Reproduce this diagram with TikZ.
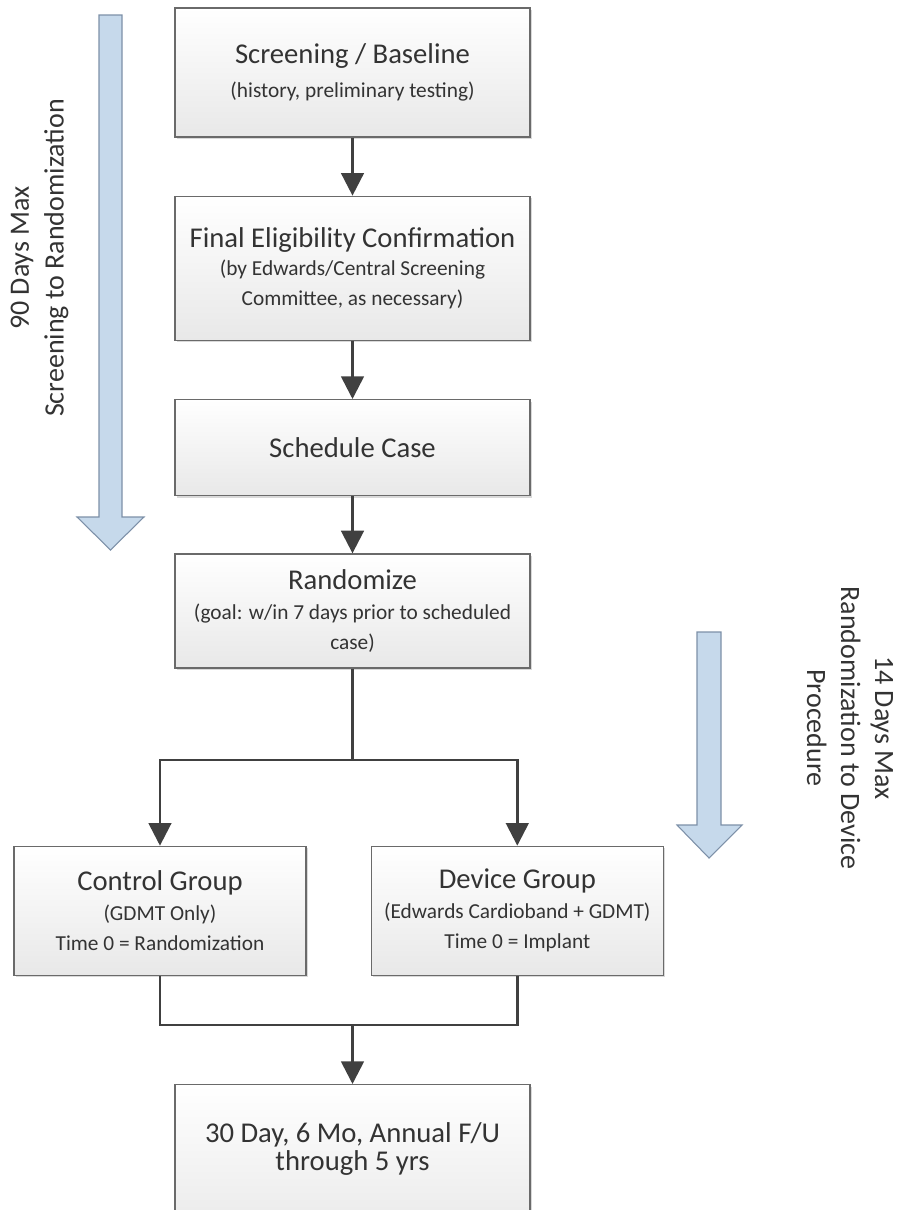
\documentclass[tikz,border=0pt]{standalone}
\usepackage{fontspec}
\setmainfont{Carlito}
\usepackage{tikz}
\usetikzlibrary{positioning, arrows.meta, shadows}
\definecolor{linegray}{HTML}{404040}
\definecolor{boxedge}{HTML}{6A6A6A}
\definecolor{arrowblue}{HTML}{C6D9EB}
\definecolor{arrowedge}{HTML}{7D90A8}
\tikzstyle{stage} = [rectangle, minimum width=266.25pt, text centered, align=center, draw=boxedge, line width=1pt, top color=white, bottom color=black!9, text=black!80, font=\fontsize{16}{22.5}\selectfont, drop shadow={shadow xshift=1.5pt, shadow yshift=-1.5pt, fill=black!25, opacity=0.6}]
\tikzstyle{groupbox} = [stage, minimum width=219pt, minimum height=96.75pt]
\tikzstyle{arrow} = [line width=2pt, draw=linegray, -{Triangle[width=17pt, length=17pt]}]
\tikzstyle{link} = [line width=2pt, draw=linegray]
\tikzstyle{bigarrow} = [fill=arrowblue, draw=arrowedge, line width=0.8pt]
\tikzstyle{note} = [align=center, text=black!80, font=\fontsize{21}{26}\selectfont]
\newcommand{\headtext}[1]{{\fontsize{21.5}{22.5}\selectfont #1}}

\begin{document}
\begin{tikzpicture}[x=0.75pt, y=-0.75pt, node distance=43.5pt]
\clip (0,0) rectangle (898,1210);

\node (screening) [stage, minimum height=96.75pt] at (352.5,72.5) {\headtext{Screening / Baseline}\\[3.5pt](history, preliminary testing)};
\node (eligibility) [stage, minimum height=108pt, below=of screening] {\headtext{Final Eligibility Confirmation}\\[-1.5pt](by Edwards/Central Screening\\Committee, as necessary)};
\node (schedule) [stage, minimum height=72pt, below=of eligibility] {\headtext{Schedule Case}};
\node (randomize) [stage, minimum height=85.5pt, below=42.75pt of schedule] {\headtext{Randomize}\\(goal: w/in 7 days prior to scheduled\\case)};

\coordinate (split) at (352.5,760);
\node (control) [groupbox, below=132.75pt of randomize, xshift=-144.4pt] {\headtext{Control Group}\\(GDMT Only)\\Time 0 = Randomization};
\node (device) [groupbox, right=48pt of control] {\headtext{Device Group}\\(Edwards Cardioband + GDMT)\\Time 0 = Implant};
\coordinate (join) at (352.5,1025);
\node (followup) [stage, minimum height=120pt, below=44.25pt of join, font=\fontsize{21.5}{21}\selectfont] {30 Day, 6 Mo, Annual F/U\\through 5 yrs\\[6pt]\mbox{}};

\draw [arrow] (screening) -- (eligibility);
\draw [arrow] (eligibility) -- (schedule);
\draw [arrow] (schedule) -- (randomize);
\draw [link] (randomize) -- (split);
\draw [arrow] (split) -| (control);
\draw [arrow] (split) -| (device);
\draw [link] (control) |- (join);
\draw [link] (device) |- (join);
\draw [arrow] (join) -- (followup);

% time windows
\draw [bigarrow] (99,15) -- (122,15) -- (122,517) -- (144,517) -- (110.5,550) -- (77,517) -- (99,517) -- cycle;
\node (screenwindow) [note, rotate=90] at (39.5,258) {90 Days Max\\Screening to Randomization};
\draw [bigarrow] (697,632) -- (721,632) -- (721,825) -- (742,825) -- (709,858) -- (677,825) -- (697,825) -- cycle;
\node (devicewindow) [note, rotate=-90, font=\fontsize{21}{25.5}\selectfont] at (850,728) {14 Days Max\\Randomization to Device\\Procedure};

\end{tikzpicture}
\end{document}
